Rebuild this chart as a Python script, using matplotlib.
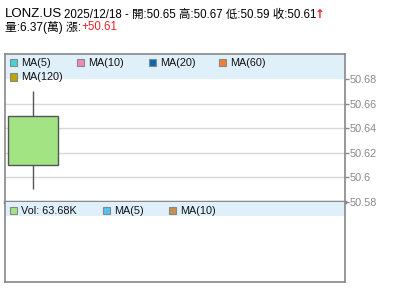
import matplotlib.pyplot as plt
from matplotlib.patches import Rectangle

plt.rcParams['font.family'] = ['Liberation Sans', 'Noto Sans CJK TC', 'DejaVu Sans']

# candle data
dates = ['2025/12/18']
opens = [50.65]
highs = [50.67]
lows = [50.59]
closes = [50.61]
volume_text = 'Vol: 63.68K'

yticks = [50.58, 50.6, 50.62, 50.64, 50.66, 50.68]
ytick_labels = ['50.58', '50.6', '50.62', '50.64', '50.66', '50.68']

ma_labels = ['MA(5)', 'MA(10)', 'MA(20)', 'MA(60)', 'MA(120)']
ma_colors = ['#44d4d4', '#f088b8', '#0868b8', '#f08030', '#b8a800']
vol_labels = [volume_text, 'MA(5)', 'MA(10)']
vol_colors = ['#a2e484', '#50c4f0', '#c89050']

W, H = 400, 301
fig = plt.figure(figsize=(W / 100, H / 100), dpi=100)


def px_axes(x0, y0, x1, y1):
    return fig.add_axes([x0 / W, 1 - y1 / H, (x1 - x0) / W, (y1 - y0) / H])


def px(x, y):
    return x / W, 1 - y / H


border = '#888888'
band = '#dff0fa'

ax = px_axes(5, 54, 345, 201.7)
ax.set_ylim(50.58, 50.7006)
ax.set_xlim(-0.56, 6.19)
for s in ax.spines.values():
    s.set_color(border)
    s.set_linewidth(1.2)
ax.spines['bottom'].set_linewidth(2.5)
ax.set_xticks([])
ax.yaxis.tick_right()
ax.set_yticks(yticks)
ax.set_yticklabels(ytick_labels)
ax.tick_params(axis='y', colors=border, labelsize=7.8, length=3, width=1, pad=0)
for t in yticks[1:-1]:
    ax.axhline(t, color='#d8d8d8', lw=1, zorder=0)
ax.add_patch(Rectangle((0, 50.68), 1, 1, transform=ax.get_yaxis_transform(),
                       facecolor=band, edgecolor='none', zorder=1))

for i in range(len(dates)):
    ax.vlines(i, lows[i], highs[i], color='#555555', lw=1, zorder=2)
    lo, hi = min(opens[i], closes[i]), max(opens[i], closes[i])
    ax.add_patch(Rectangle((i - 0.5, lo), 1, hi - lo, facecolor='#a2e484',
                           edgecolor='#555555', lw=1, zorder=3))

vax = px_axes(5, 201.7, 345, 282.3)
vax.set_xticks([])
vax.set_yticks([])
for s in vax.spines.values():
    s.set_color(border)
    s.set_linewidth(1.2)
vax.spines['top'].set_visible(False)
vax.add_patch(Rectangle((0, 0.823), 1, 0.177, transform=vax.transAxes,
                        facecolor=band, edgecolor='none'))


def legend_item(x, y, color, label):
    fx, fy = px(x, y + 3.5)
    fig.patches.append(Rectangle((fx, fy), 7 / W, 7 / H, transform=fig.transFigure,
                                 facecolor=color, edgecolor='#888888', lw=0.8))
    fig.text(*px(x + 11, y), label, fontsize=7.8, va='center', ha='left', color='#111111')


ma_pos = [(10, 63), (77, 63), (149, 63), (219, 63), (10, 77)]
for (x, y), c, lab in zip(ma_pos, ma_colors, ma_labels):
    legend_item(x, y, c, lab)

vol_pos = [(10, 210.5), (103, 210.5), (169, 210.5)]
for (x, y), c, lab in zip(vol_pos, vol_colors, vol_labels):
    legend_item(x, y, c, lab)

# header
fig.text(*px(5, 14), 'LONZ.US', fontsize=9.5, va='center', ha='left')
fig.text(*px(64, 14.5), f'{dates[0]} - 開:{opens[0]:.2f} 高:{highs[0]:.2f} '
         f'低:{lows[0]:.2f} 收:{closes[0]:.2f}', fontsize=8.3, va='center', ha='left')
fig.text(*px(315, 15), '↑', fontsize=8.5, va='center', ha='left', color='#ee2222',
         fontweight='bold', family=['DejaVu Sans'])
fig.text(*px(5, 27.5), '量:6.37(萬) 漲:', fontsize=8.5, va='center', ha='left')
fig.text(*px(81, 27.5), '+50.61', fontsize=8.3, va='center', ha='left', color='#ee2222')

fig.savefig('out.png', dpi=100)
